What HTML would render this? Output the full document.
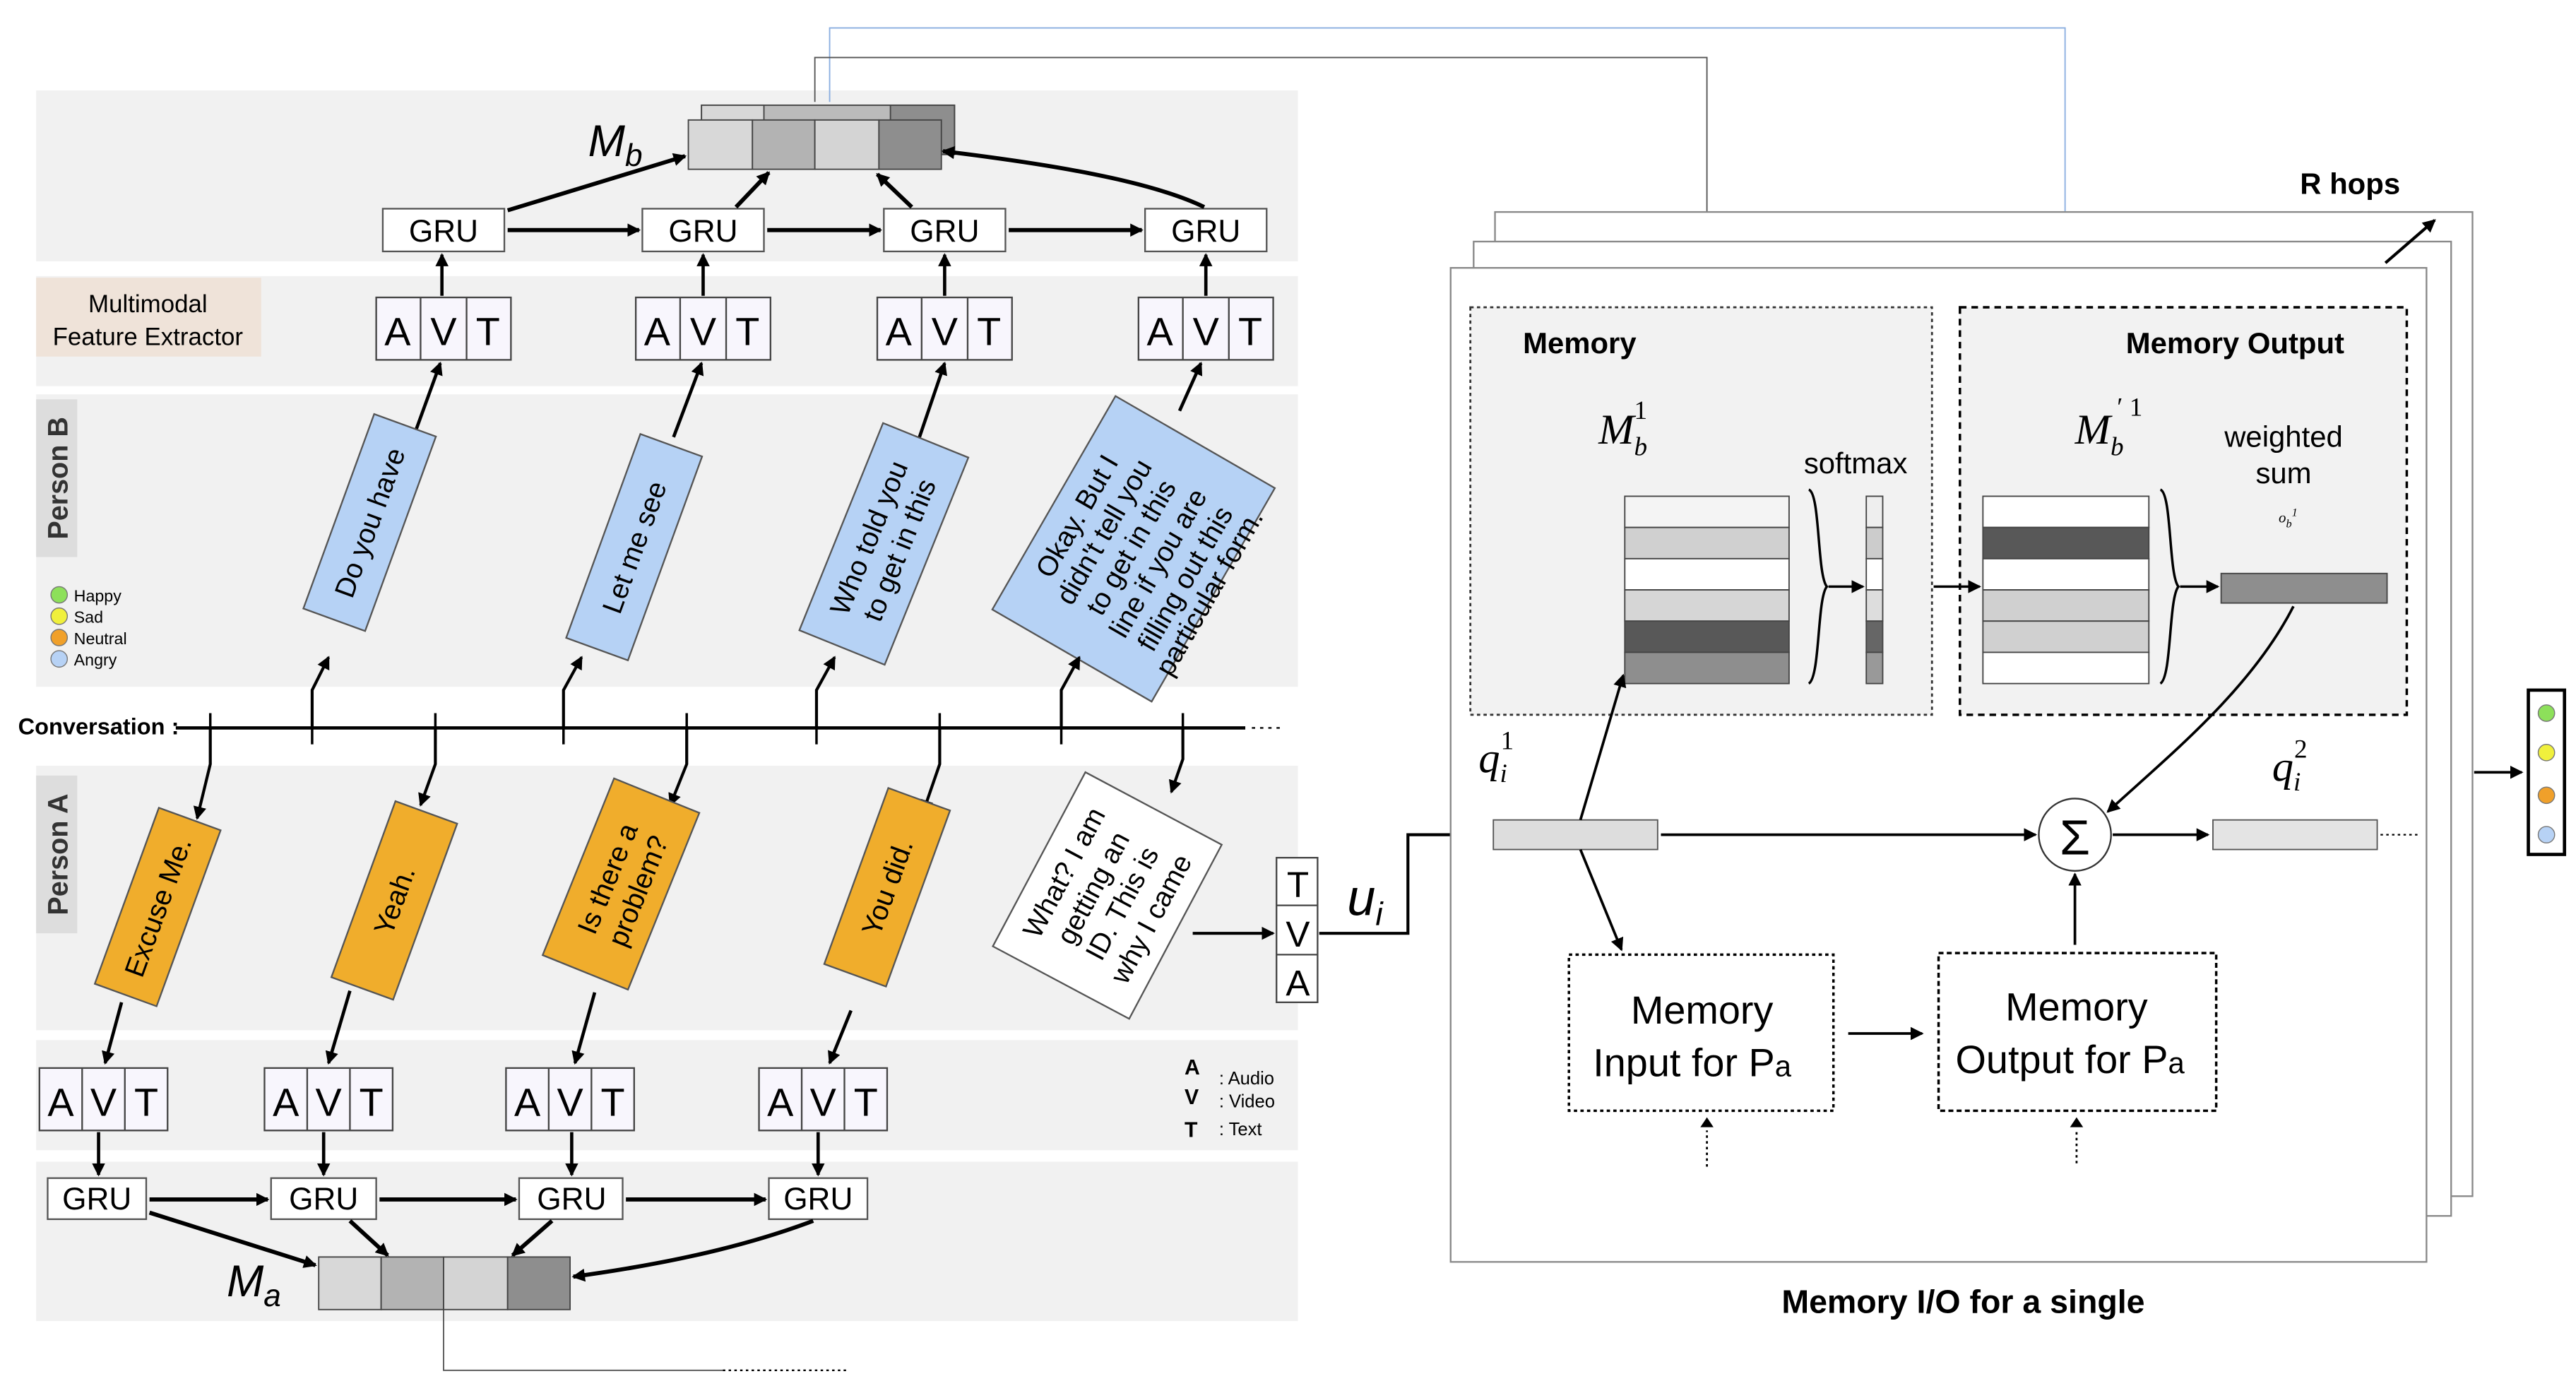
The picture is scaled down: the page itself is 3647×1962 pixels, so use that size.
<!DOCTYPE html>
<html><head><meta charset="utf-8"><style>html,body{margin:0;padding:0;background:#fff}svg{display:block}</style></head>
<body>
<svg width="3647" height="1962" viewBox="0 0 1568 843.5" xmlns="http://www.w3.org/2000/svg" font-family="Liberation Sans, sans-serif">
<defs>
<marker id="a" markerWidth="8" markerHeight="8" refX="7" refY="4" orient="auto" markerUnits="userSpaceOnUse"><path d="M0,0 L8,4 L0,8 z" fill="#000"/></marker>
</defs>
<g fill="#f1f1f1">
<rect x="22" y="55" width="768" height="104"/>
<rect x="22" y="168" width="768" height="67"/>
<rect x="22" y="240" width="768" height="178"/>
<rect x="22" y="466" width="768" height="161"/>
<rect x="22" y="633" width="768" height="67"/>
<rect x="22" y="707" width="768" height="97"/>
</g>
<polyline points="505,62 505,17 1257,17 1257,300" fill="none" stroke="#8aaee0" stroke-width="0.8"/>
<polyline points="496,62 496,35 1039,35 1039,300" fill="none" stroke="#555" stroke-width="0.8"/>
<polyline points="270,797 270,834 440,834" fill="none" stroke="#555" stroke-width="0.8"/>
<line x1="440" y1="834" x2="515" y2="834" stroke="#000" stroke-dasharray="1.5,2"/>
<rect x="427" y="64" width="154" height="30" fill="#bbb" stroke="#444" stroke-width="0.8"/>
<rect x="427" y="64" width="38" height="30" fill="#d8d8d8" stroke="#444" stroke-width="0.8"/>
<rect x="542" y="64" width="39" height="30" fill="#8e8e8e" stroke="#444" stroke-width="0.8"/>
<rect x="419" y="73" width="39" height="30" fill="#d8d8d8" stroke="#444" stroke-width="0.8"/>
<rect x="458" y="73" width="38" height="30" fill="#b3b3b3" stroke="#444" stroke-width="0.8"/>
<rect x="496" y="73" width="39" height="30" fill="#d4d4d4" stroke="#444" stroke-width="0.8"/>
<rect x="535" y="73" width="38" height="30" fill="#8e8e8e" stroke="#444" stroke-width="0.8"/>
<text x="358" y="95" font-style="italic" font-size="27">M<tspan font-size="19" dy="6">b</tspan></text>
<g font-size="19" text-anchor="middle">
<rect x="233" y="127" width="74" height="26" fill="#fff" stroke="#555"/><text x="270" y="147">GRU</text>
<rect x="391" y="127" width="74" height="26" fill="#fff" stroke="#555"/><text x="428" y="147">GRU</text>
<rect x="538" y="127" width="74" height="26" fill="#fff" stroke="#555"/><text x="575" y="147">GRU</text>
<rect x="697" y="127" width="74" height="26" fill="#fff" stroke="#555"/><text x="734" y="147">GRU</text>
</g>
<g stroke="#000" stroke-width="2.5" fill="none" marker-end="url(#a)">
<line x1="309" y1="140" x2="389" y2="140"/><line x1="467" y1="140" x2="536" y2="140"/><line x1="614" y1="140" x2="695" y2="140"/>
<line x1="309" y1="128" x2="417" y2="95"/><line x1="448" y1="126" x2="468" y2="105"/><line x1="555" y1="126" x2="534" y2="106"/>
<path d="M733,126 C700,110 640,100 574,92"/>
</g>
<rect x="22" y="169" width="137" height="48" fill="#efe3d9"/>
<text x="90" y="190" font-size="15" text-anchor="middle">Multimodal</text>
<text x="90" y="210" font-size="15" text-anchor="middle">Feature Extractor</text>
<g font-size="24" text-anchor="middle">
<g transform="translate(229,181)"><rect width="82" height="38" fill="#f8f6fd" stroke="#444"/><line x1="27" y1="0" x2="27" y2="38" stroke="#444"/><line x1="55" y1="0" x2="55" y2="38" stroke="#444"/><text x="13" y="29">A</text><text x="41" y="29">V</text><text x="68" y="29">T</text></g>
<g transform="translate(387,181)"><rect width="82" height="38" fill="#f8f6fd" stroke="#444"/><line x1="27" y1="0" x2="27" y2="38" stroke="#444"/><line x1="55" y1="0" x2="55" y2="38" stroke="#444"/><text x="13" y="29">A</text><text x="41" y="29">V</text><text x="68" y="29">T</text></g>
<g transform="translate(534,181)"><rect width="82" height="38" fill="#f8f6fd" stroke="#444"/><line x1="27" y1="0" x2="27" y2="38" stroke="#444"/><line x1="55" y1="0" x2="55" y2="38" stroke="#444"/><text x="13" y="29">A</text><text x="41" y="29">V</text><text x="68" y="29">T</text></g>
<g transform="translate(693,181)"><rect width="82" height="38" fill="#f8f6fd" stroke="#444"/><line x1="27" y1="0" x2="27" y2="38" stroke="#444"/><line x1="55" y1="0" x2="55" y2="38" stroke="#444"/><text x="13" y="29">A</text><text x="41" y="29">V</text><text x="68" y="29">T</text></g>
</g>
<g stroke="#000" stroke-width="2" marker-end="url(#a)">
<line x1="269" y1="180" x2="269" y2="155"/><line x1="428" y1="180" x2="428" y2="155"/><line x1="575" y1="180" x2="575" y2="155"/><line x1="734" y1="180" x2="734" y2="155"/>
<line x1="252" y1="265" x2="268" y2="221"/><line x1="410" y1="266" x2="427" y2="221"/><line x1="559" y1="268" x2="575" y2="221"/><line x1="718" y1="250" x2="731" y2="221"/>
</g>
<rect x="22" y="243" width="25" height="96" fill="#ddd"/>
<text transform="translate(41,291) rotate(-90)" font-size="17" font-weight="bold" fill="#333" text-anchor="middle">Person B</text>
<g font-size="10">
<circle cx="36" cy="362" r="5" fill="#8de05a" stroke="#777" stroke-width="0.6"/><text x="45" y="366">Happy</text>
<circle cx="36" cy="375" r="5" fill="#f0f03c" stroke="#777" stroke-width="0.6"/><text x="45" y="379">Sad</text>
<circle cx="36" cy="388" r="5" fill="#f0a02a" stroke="#777" stroke-width="0.6"/><text x="45" y="392">Neutral</text>
<circle cx="36" cy="401" r="5" fill="#b7d2f5" stroke="#777" stroke-width="0.6"/><text x="45" y="405">Angry</text>
</g>
<g font-size="17" text-anchor="middle">
<g transform="translate(225,318) rotate(-70)"><rect x="-63" y="-20" width="126" height="40" fill="#b6d2f5" stroke="#555"/><text y="6">Do you have</text></g>
<g transform="translate(386,333) rotate(-70)"><rect x="-66" y="-20" width="132" height="40" fill="#b6d2f5" stroke="#555"/><text y="6">Let me see</text></g>
<g transform="translate(538,331) rotate(-68)"><rect x="-68" y="-28" width="136" height="56" fill="#b6d2f5" stroke="#555"/><text y="-4">Who told you</text><text y="16">to get in this</text></g>
<g transform="translate(690,334) rotate(-60)"><rect x="-75" y="-56" width="150" height="112" fill="#b6d2f5" stroke="#555"/><text y="-34">Okay. But I</text><text y="-15">didn't tell you</text><text y="4">to get in this</text><text y="23">line if you are</text><text y="42">filling out this</text><text y="59">particular form.</text></g>
</g>
<text x="11" y="447" font-size="14" font-weight="bold">Conversation :</text>
<line x1="107" y1="443" x2="758" y2="443" stroke="#000" stroke-width="2"/>
<line x1="762" y1="443" x2="780" y2="443" stroke="#000" stroke-dasharray="2,3"/>
<g stroke="#000" stroke-width="1.5">
<line x1="128" y1="434" x2="128" y2="453"/><line x1="190" y1="434" x2="190" y2="453"/><line x1="265" y1="434" x2="265" y2="453"/><line x1="343" y1="434" x2="343" y2="453"/><line x1="418" y1="434" x2="418" y2="453"/><line x1="497" y1="434" x2="497" y2="453"/><line x1="572" y1="434" x2="572" y2="453"/><line x1="646" y1="434" x2="646" y2="453"/><line x1="720" y1="434" x2="720" y2="453"/>
</g>
<g stroke="#000" stroke-width="1.8" fill="none" marker-end="url(#a)">
<polyline points="190,443 190,420 200,400"/><polyline points="343,443 343,420 354,400"/><polyline points="497,443 497,420 508,400"/><polyline points="646,443 646,420 657,400"/>
<polyline points="128,443 128,465 120,498"/><polyline points="265,443 265,465 256,490"/><polyline points="418,443 418,465 408,490"/><polyline points="572,443 572,465 562,494"/><polyline points="720,443 720,462 713,482"/>
</g>
<rect x="22" y="472" width="25" height="96" fill="#ddd"/>
<text transform="translate(41,520) rotate(-90)" font-size="17" font-weight="bold" fill="#333" text-anchor="middle">Person A</text>
<g font-size="17" text-anchor="middle">
<g transform="translate(96,552) rotate(-70)"><rect x="-57" y="-20" width="114" height="40" fill="#f0ad2c" stroke="#555"/><text y="6">Excuse Me.</text></g>
<g transform="translate(240,548) rotate(-70)"><rect x="-57" y="-20" width="114" height="40" fill="#f0ad2c" stroke="#555"/><text y="6">Yeah.</text></g>
<g transform="translate(378,538) rotate(-68)"><rect x="-58" y="-28" width="116" height="56" fill="#f0ad2c" stroke="#555"/><text y="-3">Is there a</text><text y="17">problem?</text></g>
<g transform="translate(540,540) rotate(-70)"><rect x="-57" y="-20" width="114" height="40" fill="#f0ad2c" stroke="#555"/><text y="6">You did.</text></g>
<g transform="translate(674,545) rotate(-62)"><rect x="-60" y="-47" width="120" height="94" fill="#fff" stroke="#555"/><text y="-24">What? I am</text><text y="-4">getting an</text><text y="16">ID. This is</text><text y="36">why I came</text></g>
</g>
<line x1="726" y1="568" x2="775" y2="568" stroke="#000" stroke-width="1.8" marker-end="url(#a)"/>
<g font-size="22" text-anchor="middle">
<rect x="777" y="522" width="25" height="88" fill="#fff" stroke="#444"/><line x1="777" y1="551" x2="802" y2="551" stroke="#444"/><line x1="777" y1="581" x2="802" y2="581" stroke="#444"/>
<text x="790" y="546">T</text><text x="790" y="576">V</text><text x="790" y="606">A</text>
</g>
<text x="820" y="557" font-style="italic" font-size="31">u<tspan font-size="20" dy="6">i</tspan></text>
<polyline points="803,568 857,568 857,508 907,508" fill="none" stroke="#000" stroke-width="1.8" marker-end="url(#a)"/>
<g font-size="24" text-anchor="middle">
<g transform="translate(24,650)"><rect width="78" height="38" fill="#f8f6fd" stroke="#444"/><line x1="26" y1="0" x2="26" y2="38" stroke="#444"/><line x1="52" y1="0" x2="52" y2="38" stroke="#444"/><text x="13" y="29">A</text><text x="39" y="29">V</text><text x="65" y="29">T</text></g>
<g transform="translate(161,650)"><rect width="78" height="38" fill="#f8f6fd" stroke="#444"/><line x1="26" y1="0" x2="26" y2="38" stroke="#444"/><line x1="52" y1="0" x2="52" y2="38" stroke="#444"/><text x="13" y="29">A</text><text x="39" y="29">V</text><text x="65" y="29">T</text></g>
<g transform="translate(308,650)"><rect width="78" height="38" fill="#f8f6fd" stroke="#444"/><line x1="26" y1="0" x2="26" y2="38" stroke="#444"/><line x1="52" y1="0" x2="52" y2="38" stroke="#444"/><text x="13" y="29">A</text><text x="39" y="29">V</text><text x="65" y="29">T</text></g>
<g transform="translate(462,650)"><rect width="78" height="38" fill="#f8f6fd" stroke="#444"/><line x1="26" y1="0" x2="26" y2="38" stroke="#444"/><line x1="52" y1="0" x2="52" y2="38" stroke="#444"/><text x="13" y="29">A</text><text x="39" y="29">V</text><text x="65" y="29">T</text></g>
</g>
<g font-size="11"><text x="721" y="654" font-weight="bold" font-size="13">A</text><text x="742" y="660">: Audio</text>
<text x="721" y="672" font-weight="bold" font-size="13">V</text><text x="742" y="674">: Video</text>
<text x="721" y="692" font-weight="bold" font-size="13">T</text><text x="742" y="691">: Text</text></g>
<g stroke="#000" stroke-width="2" marker-end="url(#a)">
<line x1="74" y1="610" x2="64" y2="647"/><line x1="213" y1="603" x2="200" y2="647"/><line x1="362" y1="604" x2="350" y2="647"/><line x1="518" y1="615" x2="505" y2="647"/>
<line x1="60" y1="689" x2="60" y2="715"/><line x1="197" y1="689" x2="197" y2="715"/><line x1="348" y1="689" x2="348" y2="715"/><line x1="498" y1="689" x2="498" y2="715"/>
</g>
<g font-size="19" text-anchor="middle">
<rect x="29" y="717" width="60" height="25" fill="#fff" stroke="#555"/><text x="59" y="736">GRU</text>
<rect x="165" y="717" width="64" height="25" fill="#fff" stroke="#555"/><text x="197" y="736">GRU</text>
<rect x="316" y="717" width="63" height="25" fill="#fff" stroke="#555"/><text x="348" y="736">GRU</text>
<rect x="468" y="717" width="60" height="25" fill="#fff" stroke="#555"/><text x="498" y="736">GRU</text>
</g>
<g stroke="#000" stroke-width="2.5" fill="none" marker-end="url(#a)">
<line x1="91" y1="730" x2="163" y2="730"/><line x1="231" y1="730" x2="314" y2="730"/><line x1="381" y1="730" x2="466" y2="730"/>
<line x1="91" y1="738" x2="192" y2="770"/><line x1="213" y1="743" x2="236" y2="764"/><line x1="336" y1="743" x2="312" y2="764"/>
<path d="M495,743 C450,760 400,770 349,777"/>
</g>
<rect x="194" y="765" width="38" height="32" fill="#d8d8d8" stroke="#444" stroke-width="0.8"/>
<rect x="232" y="765" width="38" height="32" fill="#b3b3b3" stroke="#444" stroke-width="0.8"/>
<rect x="270" y="765" width="39" height="32" fill="#d4d4d4" stroke="#444" stroke-width="0.8"/>
<rect x="309" y="765" width="38" height="32" fill="#8e8e8e" stroke="#444" stroke-width="0.8"/>
<text x="138" y="789" font-style="italic" font-size="27">M<tspan font-size="19" dy="6">a</tspan></text>
<rect x="910" y="129" width="595" height="599" fill="#fff" stroke="#888"/>
<rect x="897" y="147" width="595" height="593" fill="#fff" stroke="#888"/>
<rect x="883" y="163" width="594" height="605" fill="#fff" stroke="#888"/>
<text x="1400" y="118" font-size="18" font-weight="bold">R hops</text>
<line x1="1452" y1="160" x2="1482" y2="134" stroke="#000" stroke-width="1.8" marker-end="url(#a)"/>
<text x="1195" y="799" font-size="20" font-weight="bold" text-anchor="middle">Memory I/O for a single</text>
<rect x="895" y="187" width="281" height="248" fill="#f2f2f2" stroke="#333" stroke-dasharray="2,2" stroke-width="1.2"/>
<rect x="1193" y="187" width="272" height="248" fill="#f2f2f2" stroke="#000" stroke-dasharray="4,3" stroke-width="1.5"/>
<text x="927" y="215" font-size="18" font-weight="bold">Memory</text>
<text x="1294" y="215" font-size="18" font-weight="bold">Memory Output</text>
<text x="973" y="270" font-family="Liberation Serif, serif" font-style="italic" font-size="26">M<tspan font-size="16" dy="7">b</tspan><tspan font-size="16" font-style="normal" dx="-8" dy="-22">1</tspan></text>
<text x="1263" y="270" font-family="Liberation Serif, serif" font-style="italic" font-size="26">M<tspan font-size="16" dy="7">b</tspan><tspan font-size="16" font-style="normal" dx="-4" dy="-24">′ 1</tspan></text>
<text x="1098" y="288" font-size="18">softmax</text>
<text x="1390" y="272" font-size="18" text-anchor="middle">weighted</text>
<text x="1390" y="294" font-size="18" text-anchor="middle">sum</text>
<text x="1387" y="318" font-size="9" font-style="italic" font-family="Liberation Serif, serif">o<tspan font-size="7" dy="3">b</tspan><tspan font-size="7" dy="-7">1</tspan></text>
<g stroke="#444" stroke-width="0.8">
<rect x="989" y="302" width="100" height="19" fill="#f4f4f4"/><rect x="989" y="321" width="100" height="19" fill="#d0d0d0"/><rect x="989" y="340" width="100" height="19" fill="#fff"/><rect x="989" y="359" width="100" height="19" fill="#d6d6d6"/><rect x="989" y="378" width="100" height="19" fill="#585858"/><rect x="989" y="397" width="100" height="19" fill="#8e8e8e"/>
<rect x="1136" y="302" width="10" height="19" fill="#eee"/><rect x="1136" y="321" width="10" height="19" fill="#ccc"/><rect x="1136" y="340" width="10" height="19" fill="#fff"/><rect x="1136" y="359" width="10" height="19" fill="#ddd"/><rect x="1136" y="378" width="10" height="19" fill="#666"/><rect x="1136" y="397" width="10" height="19" fill="#999"/>
<rect x="1207" y="302" width="101" height="19" fill="#fff"/><rect x="1207" y="321" width="101" height="19" fill="#585858"/><rect x="1207" y="340" width="101" height="19" fill="#fff"/><rect x="1207" y="359" width="101" height="19" fill="#d0d0d0"/><rect x="1207" y="378" width="101" height="19" fill="#d0d0d0"/><rect x="1207" y="397" width="101" height="19" fill="#fff"/>
<rect x="1352" y="349" width="101" height="18" fill="#8e8e8e"/>
</g>
<path d="M1101,298 C1108,300 1106,350 1112,357 C1106,364 1108,412 1101,416" fill="none" stroke="#000" stroke-width="1.5"/>
<path d="M1315,298 C1322,300 1320,350 1326,357 C1320,364 1322,412 1315,416" fill="none" stroke="#000" stroke-width="1.5"/>
<g stroke="#000" stroke-width="1.5" marker-end="url(#a)">
<line x1="1113" y1="357" x2="1134" y2="357"/><line x1="1177" y1="357" x2="1205" y2="357"/><line x1="1327" y1="357" x2="1350" y2="357"/>
</g>
<text x="900" y="470" font-family="Liberation Serif, serif" font-style="italic" font-size="26">q<tspan font-size="16" dy="6">i</tspan><tspan font-size="16" font-style="normal" dx="-4" dy="-20">1</tspan></text>
<text x="1383" y="475" font-family="Liberation Serif, serif" font-style="italic" font-size="26">q<tspan font-size="16" dy="6">i</tspan><tspan font-size="16" font-style="normal" dx="-4" dy="-20">2</tspan></text>
<rect x="909" y="499" width="100" height="18" fill="#ddd" stroke="#555" stroke-width="0.8"/>
<rect x="1347" y="499" width="100" height="18" fill="#e4e4e4" stroke="#555" stroke-width="0.8"/>
<line x1="1449" y1="508" x2="1472" y2="508" stroke="#000" stroke-dasharray="1.5,2"/>
<circle cx="1263" cy="508" r="22" fill="#fff" stroke="#333"/>
<text x="1263" y="520" font-size="30" text-anchor="middle">Σ</text>
<g stroke="#000" stroke-width="1.6" fill="none" marker-end="url(#a)">
<line x1="1011" y1="508" x2="1239" y2="508"/><line x1="1286" y1="508" x2="1344" y2="508"/>
<line x1="962" y1="499" x2="988" y2="411"/><line x1="962" y1="517" x2="987" y2="578"/>
<line x1="1263" y1="575" x2="1263" y2="532"/>
<path d="M1396,369 C1370,420 1320,460 1283,494"/>
<line x1="1125" y1="629" x2="1170" y2="629"/>
</g>
<rect x="955" y="581" width="161" height="95" fill="#fff" stroke="#000" stroke-dasharray="2,2" stroke-width="1.5"/>
<rect x="1180" y="580" width="169" height="96" fill="#fff" stroke="#000" stroke-dasharray="3,2" stroke-width="1.5"/>
<g font-size="24" text-anchor="middle">
<text x="1036" y="623">Memory</text><text x="1030" y="655">Input for P<tspan font-size="18">a</tspan></text>
<text x="1264" y="621">Memory</text><text x="1260" y="653">Output for P<tspan font-size="18">a</tspan></text>
</g>
<g stroke="#000" stroke-dasharray="1.5,2" stroke-width="1.2"><line x1="1039" y1="710" x2="1039" y2="688"/><line x1="1264" y1="708" x2="1264" y2="688"/></g>
<path d="M1035,686 L1039,680 L1043,686 z M1260,686 L1264,680 L1268,686 z"/>
<line x1="1506" y1="470" x2="1535" y2="470" stroke="#000" stroke-width="1.6" marker-end="url(#a)"/>
<rect x="1539" y="420" width="22" height="100" fill="#fff" stroke="#000" stroke-width="2"/>
<circle cx="1550" cy="434" r="5" fill="#8de05a" stroke="#777" stroke-width="0.6"/>
<circle cx="1550" cy="458" r="5" fill="#f0f03c" stroke="#777" stroke-width="0.6"/>
<circle cx="1550" cy="484" r="5" fill="#f0a02a" stroke="#777" stroke-width="0.6"/>
<circle cx="1550" cy="508" r="5" fill="#b7d2f5" stroke="#777" stroke-width="0.6"/>
</svg>
</body></html>
